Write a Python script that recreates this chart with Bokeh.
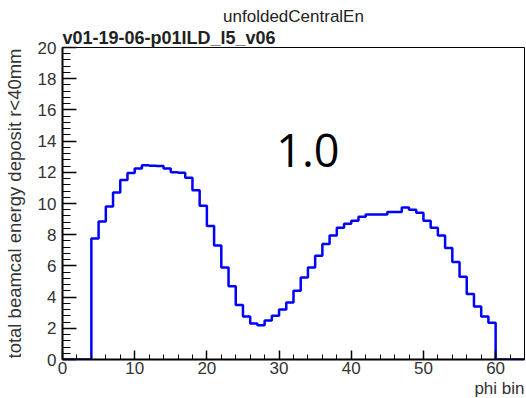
from bokeh.plotting import figure
from bokeh.models import Range1d, SingleIntervalTicker, Label, ColumnDataSource, Title
from bokeh.embed import file_html
from bokeh.resources import INLINE

# ---- data ----
bin_edges_low = list(range(64))
bin_values = [
    0, 0, 0, 0, 7.75, 8.85, 9.8, 10.7, 11.5, 11.95,
    12.25, 12.45, 12.42, 12.4, 12.25, 12.0, 11.97, 11.65, 10.85, 9.85,
    8.55, 7.3, 5.9, 4.7, 3.5, 2.75, 2.3, 2.2, 2.5, 2.8,
    3.2, 3.65, 4.4, 5.25, 5.9, 6.65, 7.4, 7.95, 8.45, 8.7,
    8.9, 9.15, 9.3, 9.3, 9.3, 9.45, 9.45, 9.75, 9.6, 9.4,
    8.9, 8.45, 7.95, 7.15, 6.25, 5.3, 4.2, 3.4, 2.75, 2.35,
    0, 0, 0, 0,
]
x_ticks_interval = 10
y_ticks_interval = 2

title_text = "unfoldedCentralEn"
version_text = "v01-19-06-p01ILD_l5_v06"
big_text = "1.0"
x_label = "phi bin"
y_label = "total beamcal energy deposit r<40mm"

p = figure(width=526, height=398, output_backend="svg", toolbar_location=None,
           x_range=Range1d(0, 64), y_range=Range1d(0, 20),
           min_border_left=62, min_border_right=2, min_border_top=47, min_border_bottom=39)
p.xgrid.visible = False
p.ygrid.visible = False
p.outline_line_color = "black"
p.outline_line_width = 1
p.background_fill_color = "white"
p.border_fill_color = "white"

# titles above (main title outermost, version string next to the frame)
p.title.text = title_text
p.title.align = "center"
p.title.text_font = "Liberation Sans"
p.title.text_font_size = "17px"
p.title.text_font_style = "normal"
p.title.text_color = "#222222"
p.title.standoff = 0
p.add_layout(Title(text=version_text, align="left", text_font="Liberation Sans",
                   text_font_size="18px", text_font_style="bold",
                   text_color="#222222", standoff=0), "above")

# x label at the bottom right
p.add_layout(Title(text=x_label, align="right", text_font="Liberation Sans",
                   text_font_size="17px", text_font_style="normal",
                   text_color="#333333", standoff=0), "below")

# histogram as step outline
xs = bin_edges_low + [64]
ys = bin_values + [bin_values[-1]]
src = ColumnDataSource(dict(x=xs, y=ys))
p.step("x", "y", source=src, mode="after", line_color="#0000ff", line_width=2.5)

for ax, interval, tin, tmin in ((p.xaxis[0], x_ticks_interval, 9, 5),
                                (p.yaxis[0], y_ticks_interval, 14, 8)):
    ax.ticker = SingleIntervalTicker(interval=interval, num_minor_ticks=5)
    ax.axis_line_color = "black"
    ax.axis_line_width = 2
    ax.major_tick_in = tin
    ax.major_tick_out = 0
    ax.minor_tick_in = tmin
    ax.minor_tick_out = 0
    ax.major_tick_line_color = "black"
    ax.minor_tick_line_color = "black"
    ax.major_tick_line_width = 1.5
    ax.major_label_text_font = "Liberation Sans"
    ax.major_label_text_font_size = "17px"
    ax.major_label_text_color = "#333333"
p.xaxis.major_label_standoff = 2
p.yaxis.major_label_standoff = 6

p.yaxis.axis_label = y_label
p.yaxis.axis_label_text_font = "Liberation Sans"
p.yaxis.axis_label_text_font_size = "18.5px"
p.yaxis.axis_label_text_font_style = "normal"
p.yaxis.axis_label_text_color = "#333333"
p.yaxis.axis_label_standoff = 10

# big annotation inside the frame
p.add_layout(Label(x=34.0, y=13.4, text=big_text, text_font="Open Sans",
                   text_font_size="45px", text_align="center",
                   text_baseline="alphabetic", text_color="black"))

open("out.html", "w").write(file_html(p, INLINE))
